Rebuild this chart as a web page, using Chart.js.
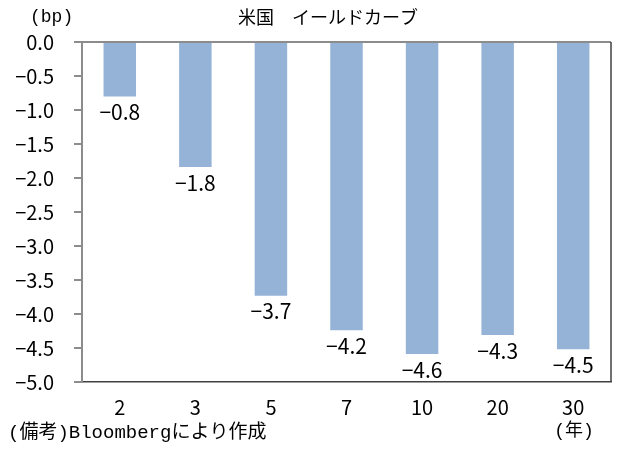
<!DOCTYPE html>
<html>
<head>
<meta charset="utf-8">
<script src="https://cdn.jsdelivr.net/npm/chart.js@4"></script>
<style>
  html, body { margin: 0; padding: 0; background: #fff; }
  #wrap { width: 622px; height: 450px; }
</style>
</head>
<body>
<div id="wrap"><canvas id="curve" width="622" height="450"></canvas></div>
<script>
const maturities = ['2', '3', '5', '7', '10', '20', '30'];
const changes = [-0.80, -1.84, -3.73, -4.24, -4.59, -4.31, -4.52];
const yTicks = [0, -0.5, -1, -1.5, -2, -2.5, -3, -3.5, -4, -4.5, -5];

const titleText = '米国　イールドカーブ';
const unitText = '(bp)';
const yearText = '(年)';
const noteText = '(備考)Bloombergにより作成';

const FONT = '"Noto Sans CJK JP", "DejaVu Sans", sans-serif';
const MONO = '"Liberation Mono", "Noto Sans CJK JP", monospace';
const fmt = v => (v < 0 ? '−' : '') + Math.abs(v).toFixed(1);

// labels under bar ends + frame + texts outside the plot
const extras = {
  id: 'extras',
  afterDatasetsDraw(chart) {
    const ctx = chart.ctx;
    const meta = chart.getDatasetMeta(0);
    ctx.save();
    ctx.fillStyle = '#000';
    ctx.font = '21px ' + FONT;
    ctx.textAlign = 'center';
    ctx.textBaseline = 'top';
    meta.data.forEach((bar, i) => {
      ctx.fillText(fmt(changes[i]), bar.x, bar.y + 5);
    });
    ctx.restore();
  },
  afterDraw(chart) {
    const { ctx, chartArea: a } = chart;
    ctx.save();
    // zero line (top) and right border
    ctx.strokeStyle = '#8c8c8c';
    ctx.lineWidth = 2;
    ctx.beginPath();
    ctx.moveTo(a.left - 8, a.top);
    ctx.lineTo(a.right, a.top);
    ctx.stroke();
    ctx.strokeStyle = '#404040';
    ctx.lineWidth = 1.5;
    ctx.beginPath();
    ctx.moveTo(a.right, a.top);
    ctx.lineTo(a.right, a.bottom);
    ctx.stroke();

    ctx.fillStyle = '#000';
    ctx.textBaseline = 'middle';
    ctx.font = '18px ' + FONT;
    ctx.textAlign = 'center';
    ctx.fillText(titleText, 328, 17);
    ctx.font = '18px ' + MONO;
    ctx.textAlign = 'left';
    ctx.fillText(unitText, 30, 17);
    ctx.font = '19px ' + MONO;
    ctx.fillText(noteText, 8, 433);
    ctx.textAlign = 'center';
    ctx.font = '18px ' + MONO;
    ctx.fillText(yearText, 574, 431);
    ctx.restore();
  }
};

new Chart(document.getElementById('curve'), {
  type: 'bar',
  data: {
    labels: maturities,
    datasets: [{
      data: changes,
      backgroundColor: '#95b3d7',
      borderWidth: 0,
      categoryPercentage: 1,
      barPercentage: 0.43
    }]
  },
  options: {
    responsive: false,
    animation: false,
    layout: { padding: { top: 42, right: 11, bottom: 30, left: 0 } },
    plugins: { legend: { display: false }, tooltip: { enabled: false } },
    scales: {
      x: {
        grid: { display: false },
        border: { color: '#404040', width: 1.5 },
        ticks: { color: '#000', font: { family: FONT, size: 20 }, padding: 5 },
        afterFit: s => { s.height = 38; }
      },
      y: {
        min: -5,
        max: 0,
        afterBuildTicks: s => { s.ticks = yTicks.map(v => ({ value: v })); },
        grid: { drawOnChartArea: false, drawTicks: true, tickLength: 8, color: '#8c8c8c', lineWidth: 2 },
        border: { color: '#8c8c8c', width: 2 },
        ticks: { color: '#000', font: { family: FONT, size: 20 }, padding: 20, callback: v => fmt(v) },
        afterFit: s => { s.width = 82; }
      }
    }
  },
  plugins: [extras]
});
</script>
</body>
</html>
